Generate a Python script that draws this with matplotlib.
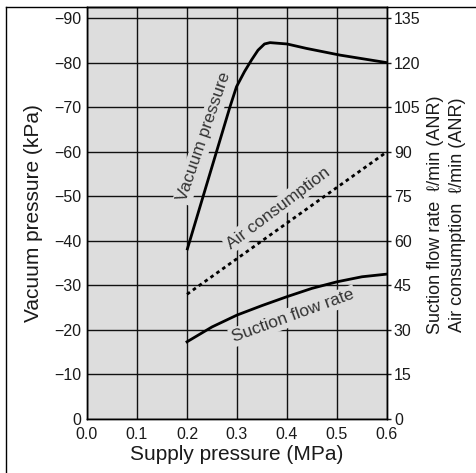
import matplotlib
matplotlib.use('Agg')
import matplotlib.pyplot as plt
from matplotlib.lines import Line2D

plt.rcParams['font.family'] = ['Liberation Sans', 'DejaVu Sans']

# ===== DATI =====
# Pressione di alimentazione (MPa)
vac_x = [0.20, 0.236, 0.259, 0.286, 0.299, 0.315, 0.329, 0.342, 0.355, 0.366, 0.40, 0.439, 0.506, 0.60]
vac_y = [-37.9, -51.4, -60.0, -70.1, -74.6, -78.0, -80.6, -82.8, -84.2, -84.5, -84.2, -83.2, -81.7, -80.0]

air_x = [0.2, 0.3, 0.4, 0.5, 0.6]
air_y = [42, 54, 66, 78, 90]          # l/min (ANR)

suc_x = [0.2, 0.25, 0.3, 0.35, 0.4, 0.45, 0.5, 0.55, 0.6]
suc_y = [26.0, 31.0, 35.0, 38.2, 41.2, 44.0, 46.2, 47.9, 48.8]   # l/min (ANR)

x_ticks = [0.0, 0.1, 0.2, 0.3, 0.4, 0.5, 0.6]
left_ticks = [0, -10, -20, -30, -40, -50, -60, -70, -80, -90]
right_ticks = [0, 15, 30, 45, 60, 75, 90, 105, 120, 135]

BG = '#dddddd'
TXT = '#1a1a1a'

fig = plt.figure(figsize=(4.77, 4.73), dpi=100)
ax = fig.add_axes([87 / 477, 54 / 473, 300 / 477, 412 / 473])
ax.set_facecolor(BG)
ax2 = ax.twinx()

ax.set_xlim(0, 0.6)
ax.set_ylim(0, -92.5)
ax2.set_ylim(0, 92.5 * 1.5)

ax.set_xticks(x_ticks)
ax.set_xticklabels([f'{v:.1f}' for v in x_ticks])
ax.set_yticks(left_ticks)
ax2.set_yticks(right_ticks)

ax.grid(True, color='#111111', linewidth=1.0)
ax.tick_params(axis='y', length=0, labelsize=11.5, colors=TXT, pad=4)
ax.tick_params(axis='x', length=0, labelsize=11.5, colors=TXT, pad=6)
ax2.tick_params(length=3, labelsize=11.5, colors=TXT, pad=2, width=1)
for a in (ax, ax2):
    for s in a.spines.values():
        s.set_linewidth(1.0)
        s.set_color('black')

# curve
ax.plot(vac_x, vac_y, color='black', linewidth=2.0, solid_capstyle='butt', zorder=3)
ax2.plot(air_x, air_y, color='black', linewidth=2.0, linestyle=(0, (1.3, 1.3)), zorder=3)
ax2.plot(suc_x, suc_y, color='black', linewidth=2.0, zorder=3)

box = dict(facecolor=BG, edgecolor='none', pad=1.5)
ax.text(0.234, -63.3, 'Vacuum pressure', rotation=71, ha='center', va='center',
        fontsize=12.5, color='#333333', bbox=box, zorder=4)
ax.text(0.382, -47.4, 'Air consumption', rotation=37, ha='center', va='center',
        fontsize=12.5, color='#333333', bbox=box, zorder=4)
ax.text(0.412, -23.1, 'Suction flow rate', rotation=20, ha='center', va='center',
        fontsize=12.5, color='#333333', bbox=box, zorder=4)

ax.set_xlabel('Supply pressure (MPa)', fontsize=15, color=TXT, labelpad=2)
ax.set_ylabel('Vacuum pressure (kPa)', fontsize=15, color=TXT, labelpad=8)

fig.text(436 / 477, 1 - 215 / 473, 'Suction flow rate  ℓ/min (ANR)', rotation=90,
         ha='center', va='center', fontsize=13, color=TXT)
fig.text(458 / 477, 1 - 215 / 473, 'Air consumption  ℓ/min (ANR)', rotation=90,
         ha='center', va='center', fontsize=13, color=TXT)

# cornice esterna
fig.add_artist(Line2D([6 / 477, 6 / 477], [0, 1 - 7 / 473], transform=fig.transFigure,
                      color='black', linewidth=1.0))
fig.add_artist(Line2D([6 / 477, 1], [1 - 7 / 473, 1 - 7 / 473], transform=fig.transFigure,
                      color='black', linewidth=1.0))

fig.savefig('out.png', dpi=100, facecolor='white')
